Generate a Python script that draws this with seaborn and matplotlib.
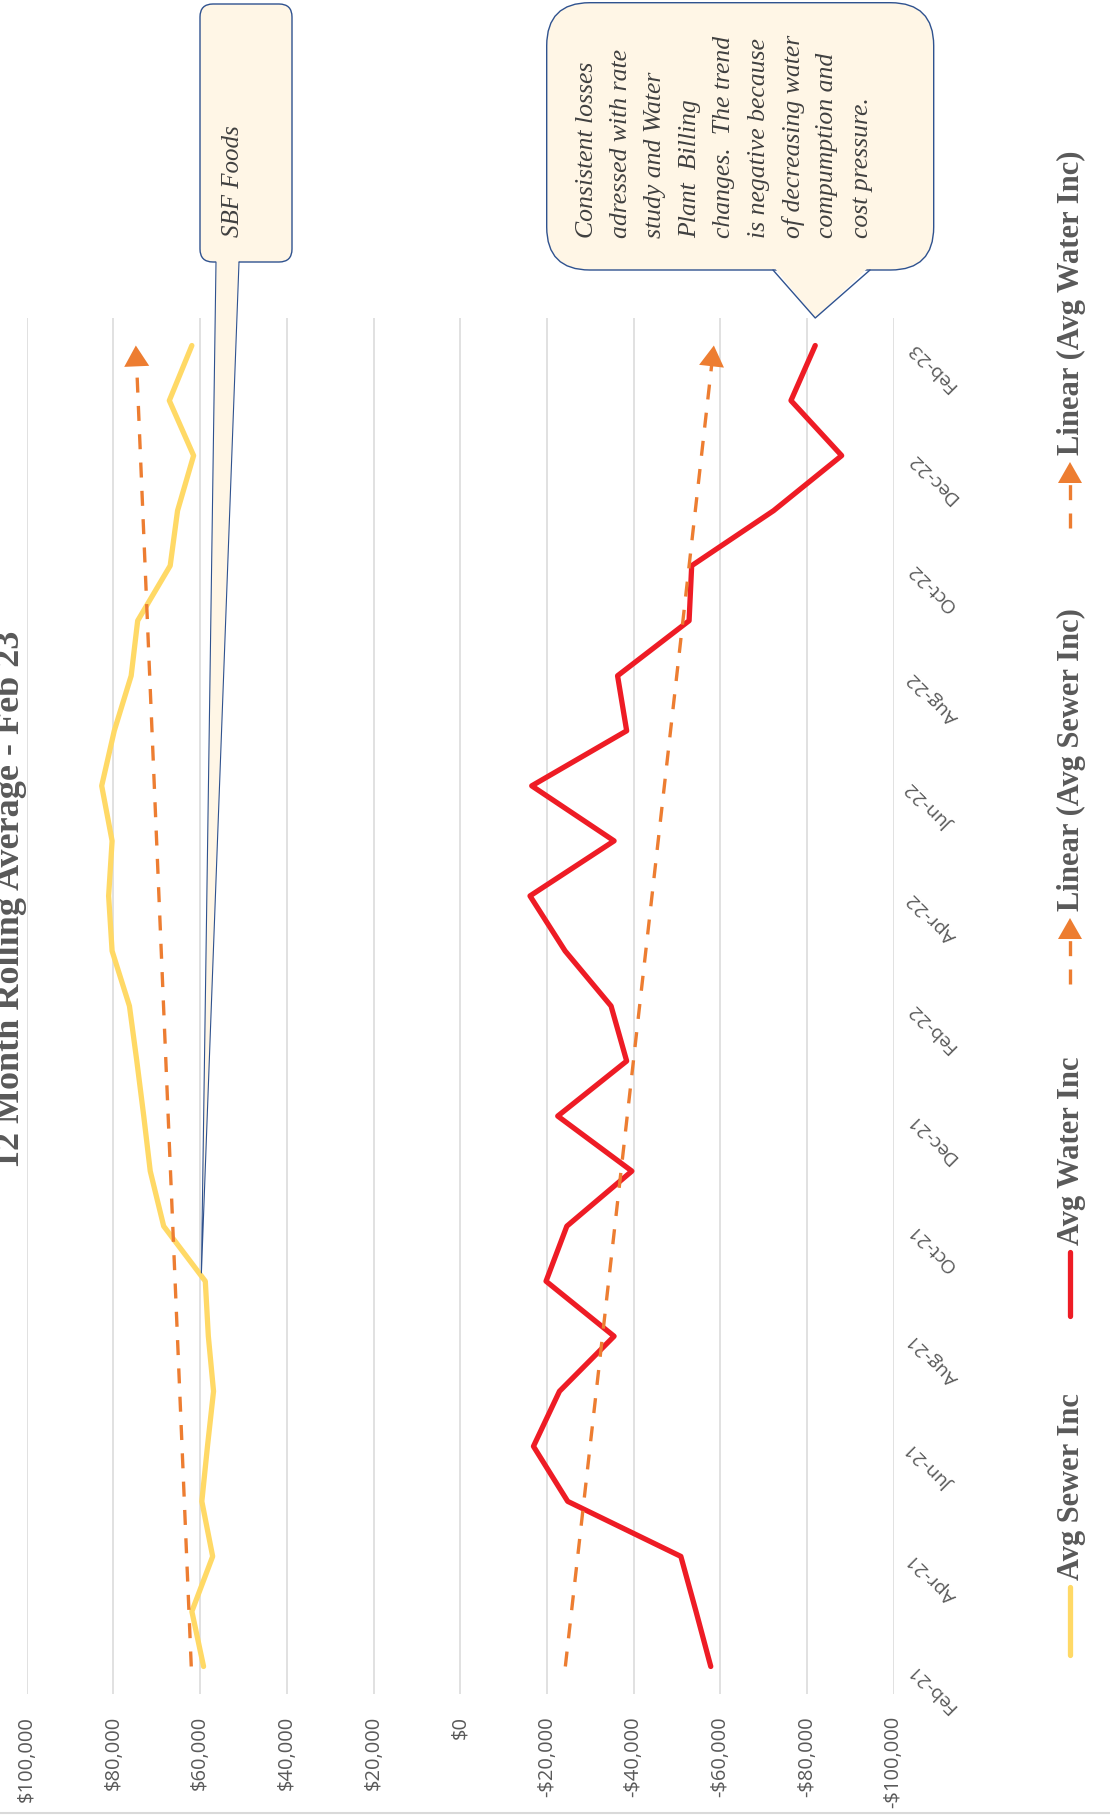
import numpy as np
import pandas as pd
import matplotlib.pyplot as plt
import seaborn as sns
from matplotlib.patches import FancyBboxPatch, Polygon
from matplotlib.lines import Line2D

# chart values (12 month rolling averages, $)
months = ['Feb-21', 'Mar-21', 'Apr-21', 'May-21', 'Jun-21', 'Jul-21', 'Aug-21',
          'Sep-21', 'Oct-21', 'Nov-21', 'Dec-21', 'Jan-22', 'Feb-22', 'Mar-22',
          'Apr-22', 'May-22', 'Jun-22', 'Jul-22', 'Aug-22', 'Sep-22', 'Oct-22',
          'Nov-22', 'Dec-22', 'Jan-23', 'Feb-23']
sewer = [59200, 61900, 57100, 59600, 58300, 56900, 58100, 58800, 68400, 71500,
         73000, 74600, 76300, 80300, 81100, 80300, 82700, 79800, 75900, 74400,
         66900, 65200, 61500, 67100, 61900]
water = [-57800, -54400, -50900, -24800, -16900, -22900, -35500, -19800, -24600,
         -39600, -22500, -38400, -34800, -24200, -16100, -35500, -16500, -38400,
         -36300, -52800, -53400, -72300, -88000, -76300, -81900]
value_ticks = [100000, 80000, 60000, 40000, 20000, 0, -20000, -40000, -60000,
               -80000, -100000]
value_labels = ['$100,000', '$80,000', '$60,000', '$40,000', '$20,000', '$0',
                '-$20,000', '-$40,000', '-$60,000', '-$80,000', '-$100,000']
legend_labels = ['Avg Sewer Inc', 'Avg Water Inc', 'Linear (Avg Sewer Inc)',
                 'Linear (Avg Water Inc)']
title = '12 Month Rolling Average - Feb 23'
note_lines = ['Consistent losses', 'adressed with rate', 'study and Water',
              'Plant  Billing', 'changes.  The trend', 'is negative because',
              'of decreasing water', 'compumption and', 'cost pressure.']
sbf_note = 'SBF Foods'

YELLOW = '#FFD966'
RED = '#EE1C25'
ORANGE = '#ED7D31'
GRAY = '#595959'
CREAM = '#FFF6E6'
EDGE = '#2F528F'

df = pd.DataFrame({'month': months, 'idx': np.arange(len(months)),
                   'sewer': sewer, 'water': water})
# linear trendlines like excel
ps = np.polyfit(df['idx'], df['sewer'], 1)
pw = np.polyfit(df['idx'], df['water'], 1)
df['sewer_trend'] = np.polyval(ps, df['idx'])
df['water_trend'] = np.polyval(pw, df['idx'])

sns.set_style('white')
W, H = 1110, 1818
fig = plt.figure(figsize=(W / 100, H / 100), dpi=100)
ax = fig.add_axes([26.7 / W, 124 / H, 867 / W, 1376 / H])

sns.lineplot(data=df, x='sewer', y='idx', orient='y', estimator=None, sort=False,
             color=YELLOW, lw=3.8, ax=ax, zorder=3)
sns.lineplot(data=df, x='water', y='idx', orient='y', estimator=None, sort=False,
             color=RED, lw=3.8, ax=ax, zorder=3)
for col in ['sewer_trend', 'water_trend']:
    sns.lineplot(data=df, x=col, y='idx', orient='y', estimator=None, sort=False,
                 color=ORANGE, lw=2.4, linestyle=(0, (4.5, 4)), ax=ax, zorder=4)
    # arrow head at the end
    ax.annotate('', xy=(df[col].iloc[-1], df['idx'].iloc[-1]),
                xytext=(np.polyval(ps if col == 'sewer_trend' else pw, 23.55), 23.55),
                arrowprops=dict(arrowstyle='-|>,head_length=0.75,head_width=0.45',
                                mutation_scale=20, color=ORANGE, lw=0,
                                shrinkA=0, shrinkB=0), zorder=5)

ax.set_xlim(100000, -100000)
ax.set_ylim(-0.5, len(months) - 0.5)
ax.set_xticks(value_ticks)
ax.set_xticklabels(value_labels, rotation=90, fontsize=14.5, color=GRAY,
                   family='Open Sans')
ax.tick_params(axis='x', length=0, pad=16)
ax.grid(axis='x', color='#D9D9D9', lw=1.1)
ax.grid(axis='y', visible=False)
ax.set_axisbelow(True)
ax.yaxis.tick_right()
ax.set_yticks(df['idx'][::2])
ax.set_yticklabels(df['month'][::2], rotation=135, rotation_mode='anchor',
                   ha='right', va='center', fontsize=14, color=GRAY,
                   family='Open Sans')
ax.tick_params(axis='y', length=0, pad=12)
ax.set_xlabel('')
ax.set_ylabel('')
for s in ax.spines.values():
    s.set_visible(False)

# overlay in pixel coordinates for title, legend and callouts
ov = fig.add_axes([0, 0, 1, 1], zorder=10)
ov.set_xlim(0, W)
ov.set_ylim(H, 0)
ov.axis('off')
ov.patch.set_alpha(0)


def to_px(x, y):
    d = ax.transData.transform((x, y))
    return d[0], H - d[1]


ov.text(27, 899, title, rotation=90, ha='right', va='center', fontsize=26,
        fontweight='bold', color=GRAY, family='Liberation Serif')

# legend
leg_font = dict(rotation=90, ha='center', va='bottom', fontsize=22,
                fontweight='bold', color=GRAY, family='Liberation Serif')
ov.add_line(Line2D([1070, 1070], [1587, 1655], color=YELLOW, lw=3.8,
                   solid_capstyle='round'))
ov.text(1071, 1580, legend_labels[0], **leg_font)
ov.add_line(Line2D([1070, 1070], [1252, 1316], color=RED, lw=3.8,
                   solid_capstyle='round'))
ov.text(1071, 1245, legend_labels[1], **leg_font)
for y0, lab in [(984, legend_labels[2]), (528, legend_labels[3])]:
    ov.add_line(Line2D([1070, 1070], [y0, y0 - 46], color=ORANGE, lw=2.4,
                       linestyle=(0, (4.5, 4))))
    ov.add_patch(Polygon([(1058, y0 - 45), (1082, y0 - 45), (1070, y0 - 66)],
                         closed=True, fc=ORANGE, ec='none'))
    ov.text(1071, y0 - 73, lab, **leg_font)

# SBF Foods callout
tx, ty = to_px(59700, 7.15)
ov.add_patch(Polygon([(216, 255), (239, 255), (tx, ty)], closed=True,
                     fc=CREAM, ec='none', zorder=2))
ov.add_line(Line2D([216, tx, 239], [262, ty, 262], color=EDGE, lw=0.8, zorder=3))
ov.add_patch(FancyBboxPatch((200, 4), 92, 258,
                            boxstyle='round,pad=0,rounding_size=13',
                            fc=CREAM, ec=EDGE, lw=1, zorder=1))
ov.text(233, 237, sbf_note, rotation=90, ha='center', va='bottom', fontsize=18,
        style='italic', color='#404040', family='Liberation Serif', zorder=4)

# water callout
wx, wy = to_px(df['water'].iloc[-1], len(months) - 0.5)
ov.add_patch(FancyBboxPatch((546.7, 2.7), 387, 267.3,
                            boxstyle='round,pad=0,rounding_size=43',
                            fc=CREAM, ec=EDGE, lw=1, zorder=1))
ov.add_patch(Polygon([(773, 266), (870, 266), (wx, wy)], closed=True,
                     fc=CREAM, ec='none', zorder=2))
ov.add_line(Line2D([773, wx, 870], [270, wy, 270], color=EDGE, lw=1, zorder=3))
for k, line in enumerate(note_lines):
    ov.text(586.7 + k * 34.4, 238, line, rotation=90, ha='center', va='bottom',
            fontsize=18.5, style='italic', color='#404040',
            family='Liberation Serif', zorder=4)

fig.add_artist(Line2D([0, 1], [5 / H, 5 / H], transform=fig.transFigure,
                      color='#D9D9D9', lw=1.5))

fig.savefig('out.png', dpi=100, facecolor='white')
